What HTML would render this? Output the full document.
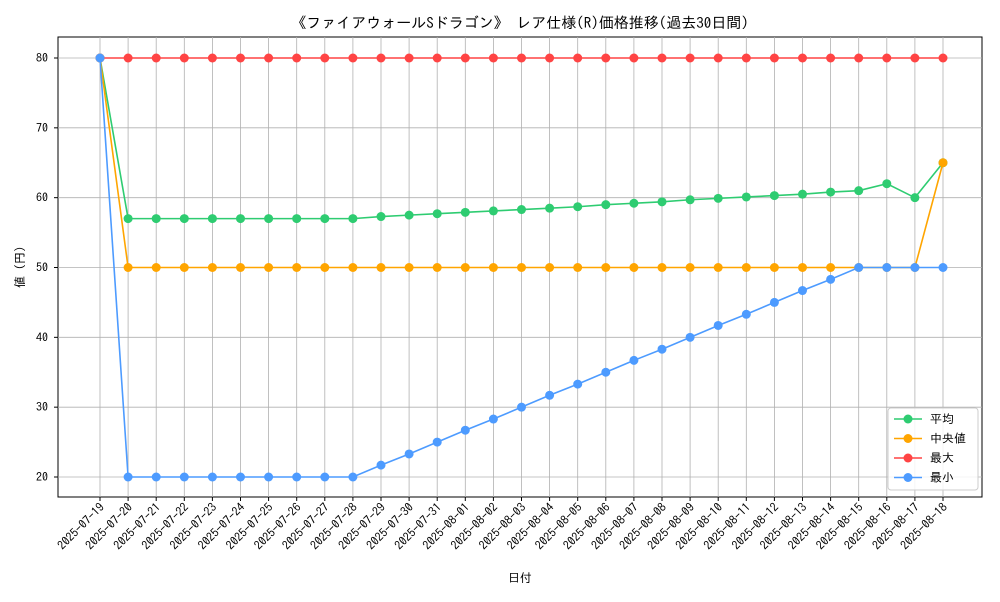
<!DOCTYPE html>
<html><head><meta charset="utf-8"><style>
body{margin:0;background:#fff;font-family:"IPAGothic","Noto Sans CJK JP",monospace;}
svg text{font-family:"IPAGothic","Noto Sans CJK JP",monospace;}
</style></head><body>
<svg id="chart" width="1000" height="600">
<text x="520" y="28" font-size="15" text-anchor="middle">《ファイアウォールSドラゴン》 レア仕様(R)価格推移(過去30日間)</text>
<rect x="58" y="37" width="924" height="460" fill="none" stroke="#000" stroke-width="1"/>
<g id="grid"></g><g id="series"></g><g id="axes"></g>
<text x="520" y="582" font-size="12" text-anchor="middle">日付</text>
<text transform="translate(24,267) rotate(-90)" font-size="12" text-anchor="middle">値 (円)</text>
<g id="legend"></g>
</svg>
<script>
const dates=["2025-07-19","2025-07-20","2025-07-21","2025-07-22","2025-07-23","2025-07-24","2025-07-25","2025-07-26","2025-07-27","2025-07-28","2025-07-29","2025-07-30","2025-07-31","2025-08-01","2025-08-02","2025-08-03","2025-08-04","2025-08-05","2025-08-06","2025-08-07","2025-08-08","2025-08-09","2025-08-10","2025-08-11","2025-08-12","2025-08-13","2025-08-14","2025-08-15","2025-08-16","2025-08-17","2025-08-18"];
const avgValues=[80,57,57,57,57,57,57,57,57,57,57.3,57.5,57.7,57.9,58.1,58.3,58.5,58.7,59.0,59.2,59.4,59.7,59.9,60.1,60.3,60.5,60.8,61.0,62.0,60.0,65.0];
const medianValues=[80,50,50,50,50,50,50,50,50,50,50,50,50,50,50,50,50,50,50,50,50,50,50,50,50,50,50,50,50,50,65];
const maxValues=[80,80,80,80,80,80,80,80,80,80,80,80,80,80,80,80,80,80,80,80,80,80,80,80,80,80,80,80,80,80,80];
const minValues=[80,20,20,20,20,20,20,20,20,20,21.7,23.3,25,26.7,28.3,30,31.7,33.3,35,36.7,38.3,40,41.7,43.3,45,46.7,48.3,50,50,50,50];
const yTicks=[20,30,40,50,60,70,80];
const seriesNames=["平均","中央値","最大","最小"];
const NS="http://www.w3.org/2000/svg";
const xs=i=>100+i*(943-100)/(dates.length-1);
const ys=v=>477-(v-20)*(477-58)/60;
function mk(t,a,p){const e=document.createElementNS(NS,t);for(const k in a)e.setAttribute(k,a[k]);p.appendChild(e);return e;}
const grid=document.getElementById('grid'),axes=document.getElementById('axes'),ser=document.getElementById('series'),leg=document.getElementById('legend');
dates.forEach((d,i)=>{
 const g=mk('line',{x1:xs(i),x2:xs(i),y1:37,y2:497,stroke:'#b0b0b0','stroke-width':0.8},grid);
 
 
 const tk=mk('line',{x1:xs(i),x2:xs(i),y1:497,y2:501,stroke:'#000'},axes);
 
 
 const t=mk('text',{x:0,y:0,'font-size':12,'text-anchor':'end',transform:`translate(${xs(i)+5},${508}) rotate(-45)`},axes);
 t.textContent=d;
 
 
});
yTicks.forEach(v=>{
 const g=mk('line',{x1:58,x2:982,y1:ys(v),y2:ys(v),stroke:'#b0b0b0','stroke-width':0.8},grid);
 
 
 const tk=mk('line',{x1:54,x2:58,y1:ys(v),y2:ys(v),stroke:'#000'},axes);
 
 
 const t=mk('text',{x:48,y:ys(v)+4,'font-size':12,'text-anchor':'end'},axes);
 t.textContent=v;
 
 
});
const all=[[avgValues,'#2ecc71','avg'],[medianValues,'#ffa500','median'],[maxValues,'#ff4444','max'],[minValues,'#4d9bff','min']];
all.forEach(([vals,c,n])=>{
 const p=mk('polyline',{points:vals.map((v,i)=>xs(i)+','+ys(v)).join(' '),fill:'none',stroke:c,'stroke-width':1.6},ser);
 
 
 vals.forEach((v,i)=>{
  const m=mk('circle',{cx:xs(i),cy:ys(v),r:4.5,fill:c},ser);
  
  
 });
});
const box=mk('rect',{x:888,y:408,width:90,height:82,fill:'#fff','fill-opacity':0.85,stroke:'#ccc',rx:3},leg);


all.forEach(([v,c,n],k)=>{
 const y=419+k*19.5;
 const l=mk('line',{x1:894,x2:922,y1:y,y2:y,stroke:c,'stroke-width':1.6},leg);
 
 
 const ci=mk('circle',{cx:908,cy:y,r:4.5,fill:c},leg);
 
 
 const t=mk('text',{x:930,y:y+4,'font-size':12},leg);
 t.textContent=(k===1?' ':'')+seriesNames[k];
 
 
});
</script>
</body></html>
